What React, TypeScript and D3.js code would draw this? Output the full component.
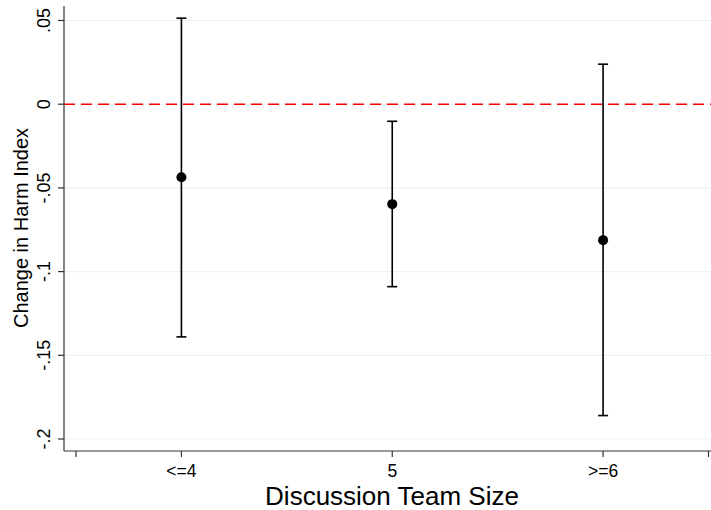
import React from "react";
import * as d3 from "d3";

const categories = ["<=4", "5", ">=6"];
const estimates = [-0.0436, -0.0597, -0.0812];
const ciUpper = [0.0514, -0.0102, 0.0239];
const ciLower = [-0.139, -0.109, -0.186];
const yTicks = [0.05, 0, -0.05, -0.1, -0.15, -0.2];
const yTickLabels = [".05", "0", "-.05", "-.1", "-.15", "-.2"];

export default function App() {
  const W = 711, H = 510;
  const left = 64, bottom = 451;
  const font = "'Liberation Sans', Arial, Helvetica, sans-serif";
  const y = d3.scaleLinear().domain([0.05, -0.2]).range([20.5, 439]);
  const x = d3.scaleLinear().domain([0.5, 3.5]).range([76, 708.5]);
  const xTickPos = [0.5, 1, 2, 3, 3.5];
  return (
    <svg width={W} height={H} style={{ position: "absolute", left: 0, top: 0, background: "#fff" }}>
      <rect width={W} height={H} fill="#fff" />
      {yTicks.map((t, i) => (
        <line key={"g" + i} x1={left} x2={W} y1={y(t)} y2={y(t)} stroke="#eaf2f3" strokeWidth={1.2} />
      ))}
      <line x1={left} x2={W} y1={y(0)} y2={y(0)} stroke="#ff0000" strokeWidth={1.6} strokeDasharray="11,6" />
      {categories.map((c, i) => {
        const cx = x(i + 1);
        return (
          <g key={c}>
            <line x1={cx} x2={cx} y1={y(ciUpper[i])} y2={y(ciLower[i])} stroke="#000" strokeWidth={1.6} />
            <line x1={cx - 5} x2={cx + 5} y1={y(ciUpper[i])} y2={y(ciUpper[i])} stroke="#000" strokeWidth={1.6} />
            <line x1={cx - 5} x2={cx + 5} y1={y(ciLower[i])} y2={y(ciLower[i])} stroke="#000" strokeWidth={1.6} />
            <circle cx={cx} cy={y(estimates[i])} r={5} fill="#000" />
          </g>
        );
      })}
      <line x1={left} x2={left} y1={6} y2={bottom} stroke="#333" strokeWidth={1.2} />
      <line x1={left} x2={W} y1={bottom} y2={bottom} stroke="#333" strokeWidth={1.2} />
      {yTicks.map((t, i) => (
        <g key={"yt" + i}>
          <line x1={left - 6} x2={left} y1={y(t)} y2={y(t)} stroke="#333" strokeWidth={1.2} />
          <text
            transform={`translate(${49.5},${y(t)}) rotate(-90)`}
            textAnchor="middle"
            fontFamily={font}
            fontSize={18}
            fill="#000"
          >
            {yTickLabels[i]}
          </text>
        </g>
      ))}
      {xTickPos.map((t, i) => (
        <line key={"xt" + i} x1={x(t)} x2={x(t)} y1={bottom} y2={bottom + 6} stroke="#333" strokeWidth={1.2} />
      ))}
      {categories.map((c, i) => (
        <text key={"xl" + i} x={x(i + 1)} y={477} textAnchor="middle" fontFamily={font} fontSize={17.5} fill="#000">
          {c}
        </text>
      ))}
      <text x={392} y={505} textAnchor="middle" fontFamily={font} fontSize={26} fill="#000">
        Discussion Team Size
      </text>
      <text
        transform={`translate(${28},${228}) rotate(-90)`}
        textAnchor="middle"
        fontFamily={font}
        fontSize={20}
        fill="#000"
      >
        Change in Harm Index
      </text>
    </svg>
  );
}
